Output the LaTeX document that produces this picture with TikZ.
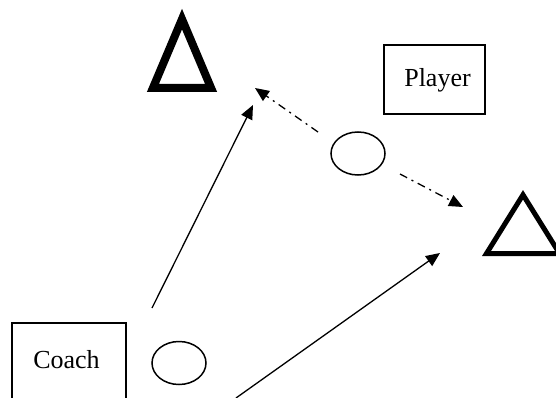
\documentclass[tikz,border=0pt]{standalone}
\usepackage{fontspec}
\setmainfont{Liberation Serif}
\usetikzlibrary{arrows.meta,shapes.geometric}
\begin{document}
\begin{tikzpicture}[x=1pt,y=-1pt,
  box/.style={draw, rectangle, line width=1.5pt, inner sep=0pt},
  oval/.style={draw, ellipse, line width=1.5pt, inner sep=0pt, minimum width=54pt, minimum height=43pt},
  lbl/.style={font=\fontsize{26}{30}\selectfont, anchor=base},
  solidarrow/.style={line width=1.3pt, -{Triangle[length=14pt,width=12pt]}},
  dasharrow/.style={solidarrow, dash pattern=on 8pt off 5pt on 2pt off 5pt},
  cone/.style={draw, line join=miter}]
\useasboundingbox (0,0) rectangle (556,398);
\clip (0,0) rectangle (556,398);
% triangles (cones)
\draw[cone, line width=8pt] (182,19.1) -- (152.9,88) -- (211.1,88) -- cycle;
\draw[cone, line width=5pt] (523,194.8) -- (486.5,253.5) -- (559.5,253.5) -- cycle;
% boxes
\node[box, minimum width=101pt, minimum height=69pt,
  label={[lbl, xshift=3pt, yshift=-1.2pt]center:Player}] (player) at (434.5,79.5) {};
\node[box, minimum width=114pt, minimum height=97pt,
  label={[lbl, xshift=-2.5pt, yshift=11.5pt]center:Coach}] (coach) at (69,371.5) {};
% ovals
\node[oval] (ballc) at (179,363) {};
\node[oval] (ballm) at (358,153.5) {};
% arrow end points
\coordinate (a1s) at (152,308);
\coordinate (a1e) at (253,105);
\coordinate (a2s) at (236,398);
\coordinate (a2e) at (440,253);
\coordinate (d1s) at (318,132);
\coordinate (d1e) at (255,88);
\coordinate (d2s) at (400,174);
\coordinate (d2e) at (463,207);
\draw[solidarrow] (a1s) -- (a1e);
\draw[solidarrow] (a2s) -- (a2e);
\draw[dasharrow] (d1s) -- (d1e);
\draw[dasharrow] (d2s) -- (d2e);
\end{tikzpicture}
\end{document}
